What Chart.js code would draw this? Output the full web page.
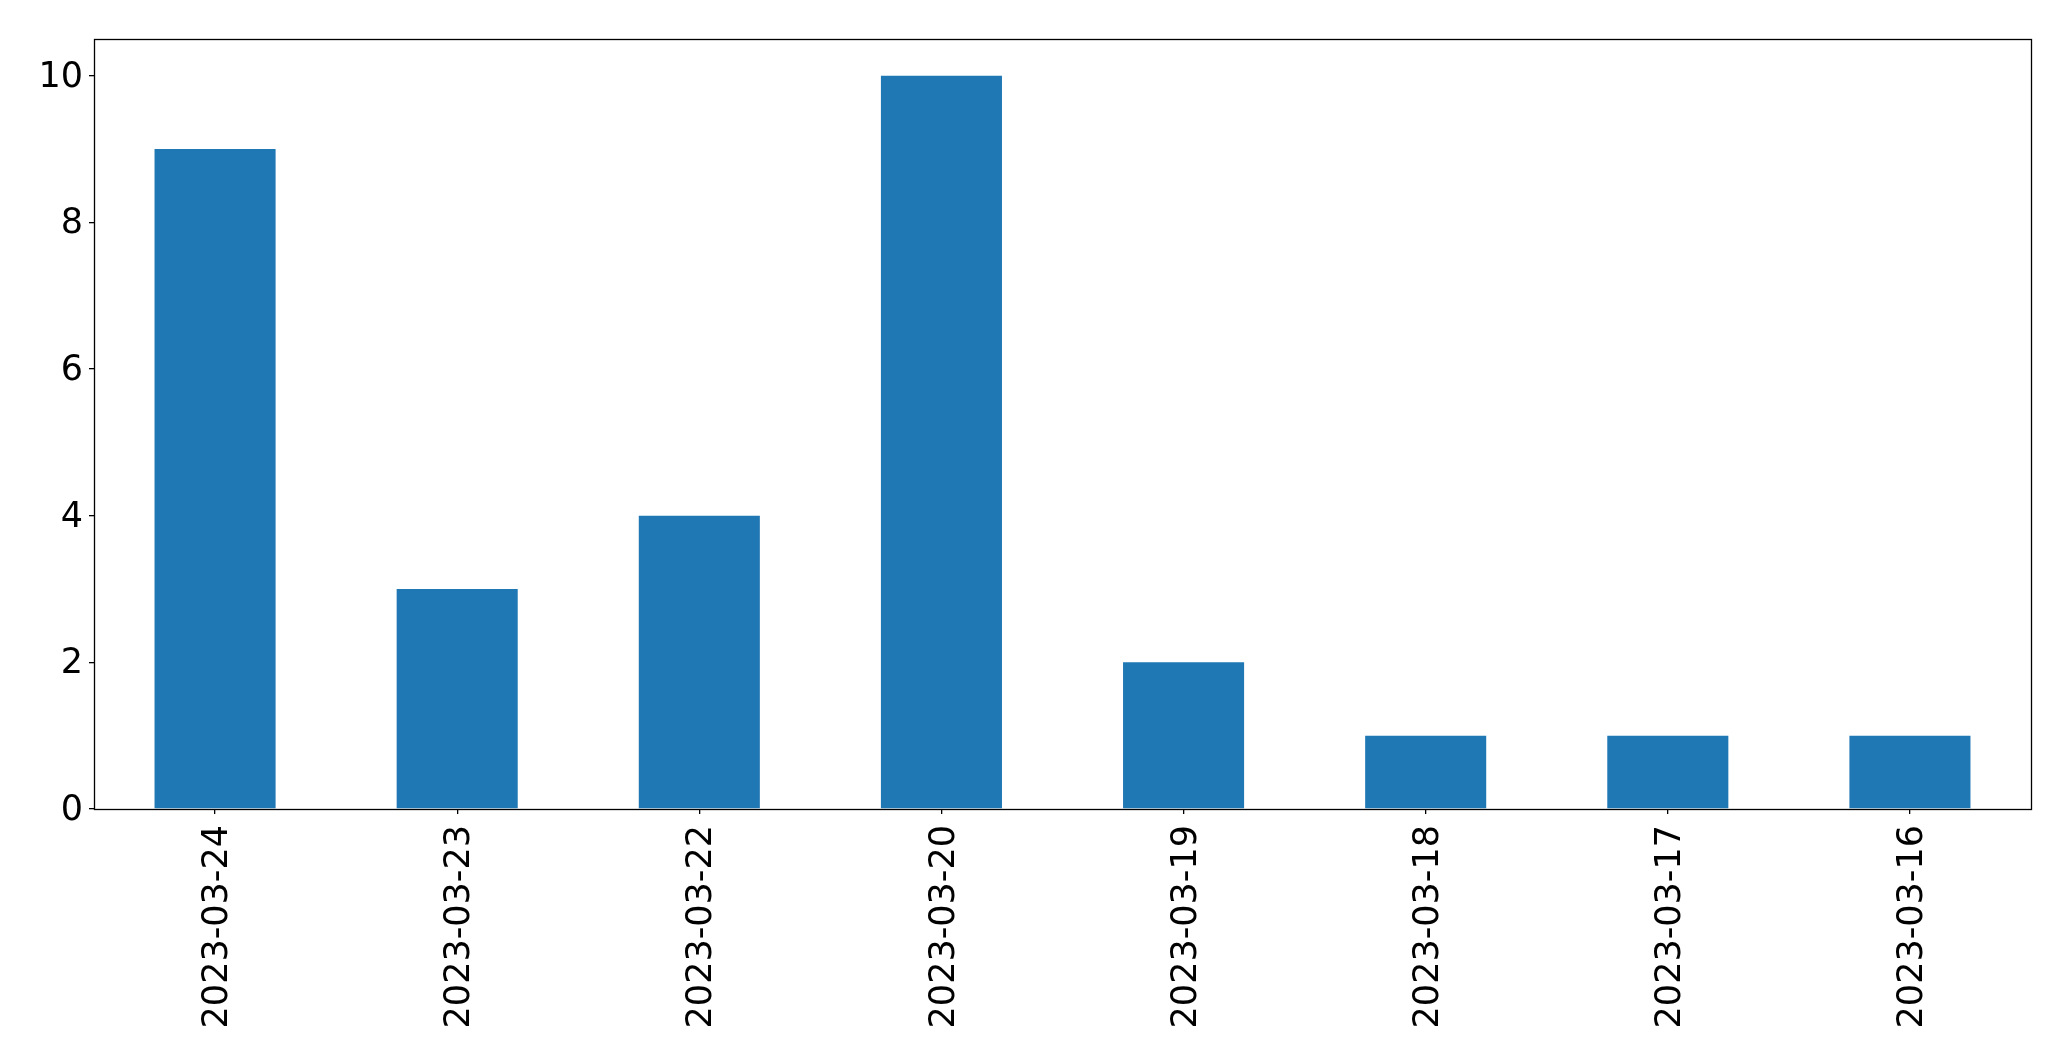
<!DOCTYPE html>
<html>
<head>
<meta charset="utf-8">
<script src="https://cdn.jsdelivr.net/npm/chart.js@4/dist/chart.umd.min.js"></script>
<style>
  html, body { margin: 0; padding: 0; background: #ffffff; }
  #wrap { width: 2071px; height: 1061px; position: relative; }
</style>
</head>
<body>
<div id="wrap"><canvas id="c" width="2071" height="1061"></canvas></div>
<script>
const categories = ["2023-03-24", "2023-03-23", "2023-03-22", "2023-03-20", "2023-03-19", "2023-03-18", "2023-03-17", "2023-03-16"];
const counts = [9, 3, 4, 10, 2, 1, 1, 1];
const yTicks = [0, 2, 4, 6, 8, 10];

const frame = {
  id: 'frame',
  afterDraw(chart) {
    const a = chart.chartArea, ctx = chart.ctx;
    ctx.save();
    ctx.strokeStyle = '#000';
    ctx.lineWidth = 1.3;
    ctx.strokeRect(Math.round(a.left) + 0.5, Math.round(a.top) + 0.5,
                   Math.round(a.right) - Math.round(a.left), Math.round(a.bottom) - Math.round(a.top));
    ctx.restore();
  }
};

new Chart(document.getElementById('c'), {
  type: 'bar',
  data: {
    labels: categories,
    datasets: [{
      data: counts,
      backgroundColor: '#1f77b4',
      borderWidth: 0,
      categoryPercentage: 1.0,
      barPercentage: 0.5
    }]
  },
  options: {
    responsive: false,
    animation: false,
    devicePixelRatio: 1,
    layout: { padding: { left: 0, top: 39, right: 40, bottom: 0 } },
    plugins: { legend: { display: false }, tooltip: { enabled: false } },
    scales: {
      x: {
        offset: true,
        grid: { display: true, drawOnChartArea: false, drawTicks: true, tickLength: 5, color: '#000', lineWidth: 1.3, offset: false },
        border: { display: false },
        ticks: {
          color: '#000',
          font: { family: 'DejaVu Sans', size: 35 },
          minRotation: 90, maxRotation: 90,
          autoSkip: false,
          labelOffset: 3,
          padding: 11
        },
        afterFit(scale) { scale.height = 1061 - 809; }
      },
      y: {
        min: 0, max: 10.5,
        grid: { display: true, drawOnChartArea: false, drawTicks: true, tickLength: 5, color: '#000', lineWidth: 1.3 },
        border: { display: false },
        afterBuildTicks(scale) { scale.ticks = yTicks.map(v => ({ value: v })); },
        ticks: {
          color: '#000',
          font: { family: 'DejaVu Sans', size: 35 },
          labelOffset: 2,
          padding: 6
        },
        afterFit(scale) { scale.width = 94; }
      }
    }
  },
  plugins: [frame]
});
</script>
</body>
</html>
